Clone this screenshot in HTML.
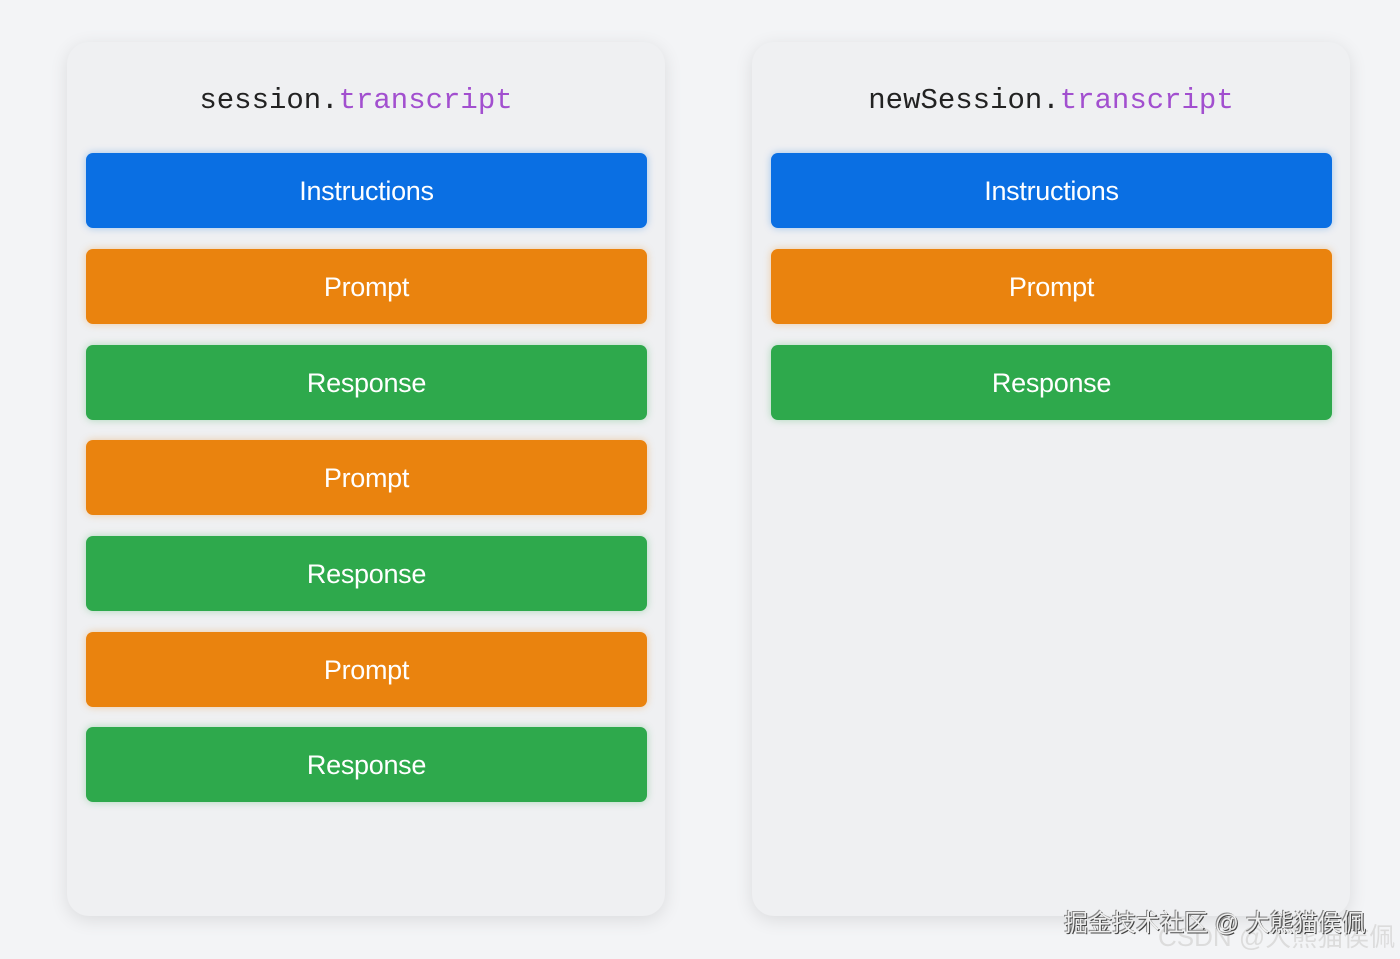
<!DOCTYPE html>
<html><head><meta charset="utf-8"><style>
body{margin:0;width:1400px;height:959px;background:#f3f4f6;position:relative;overflow:hidden;font-family:"Liberation Sans",sans-serif}
.card{position:absolute;top:42px;width:598px;height:874px;background:#eff0f2;border-radius:22px;box-shadow:0 4px 18px rgba(0,0,0,0.10)}
.title{position:absolute;width:100%;text-align:center;font-family:"Liberation Mono",monospace;font-size:29px;color:#222;top:42px}
.title span{color:#a24fcf}
.bar{position:absolute;left:19px;width:561px;height:75px;border-radius:7px;color:#fff;font-size:27px;text-align:center;line-height:77px;letter-spacing:-0.3px}
.b{background:#0a6fe3;box-shadow:0 0 8px rgba(10,111,227,0.35)}
.o{background:#ea830e;box-shadow:0 0 8px rgba(234,131,14,0.35)}
.g{background:#2ea94c;box-shadow:0 0 8px rgba(46,169,76,0.35)}
.wm{position:absolute;font-family:"Liberation Sans","Noto Sans CJK SC",sans-serif}
</style></head><body>
<div class="card" style="left:67px">
<div class="title" style="left:-10px">session.<span>transcript</span></div>
<div class="bar b" style="top:111px">Instructions</div>
<div class="bar o" style="top:207px">Prompt</div>
<div class="bar g" style="top:303px">Response</div>
<div class="bar o" style="top:398px">Prompt</div>
<div class="bar g" style="top:494px">Response</div>
<div class="bar o" style="top:590px">Prompt</div>
<div class="bar g" style="top:685px">Response</div>
</div>
<div class="card" style="left:752px">
<div class="title">newSession.<span>transcript</span></div>
<div class="bar b" style="top:111px">Instructions</div>
<div class="bar o" style="top:207px">Prompt</div>
<div class="bar g" style="top:303px">Response</div>
</div>
<div class="wm" style="left:1158px;top:917px;font-size:26px;color:#dcdcdc">CSDN @大熊猫侯佩</div>
<div class="wm" style="left:1064px;top:903px;font-size:24px;color:#eee;text-shadow:1px 1px 0 #444,-1px -1px 0 #888">掘金技术社区 @ 大熊猫侯佩</div>
</body></html>
